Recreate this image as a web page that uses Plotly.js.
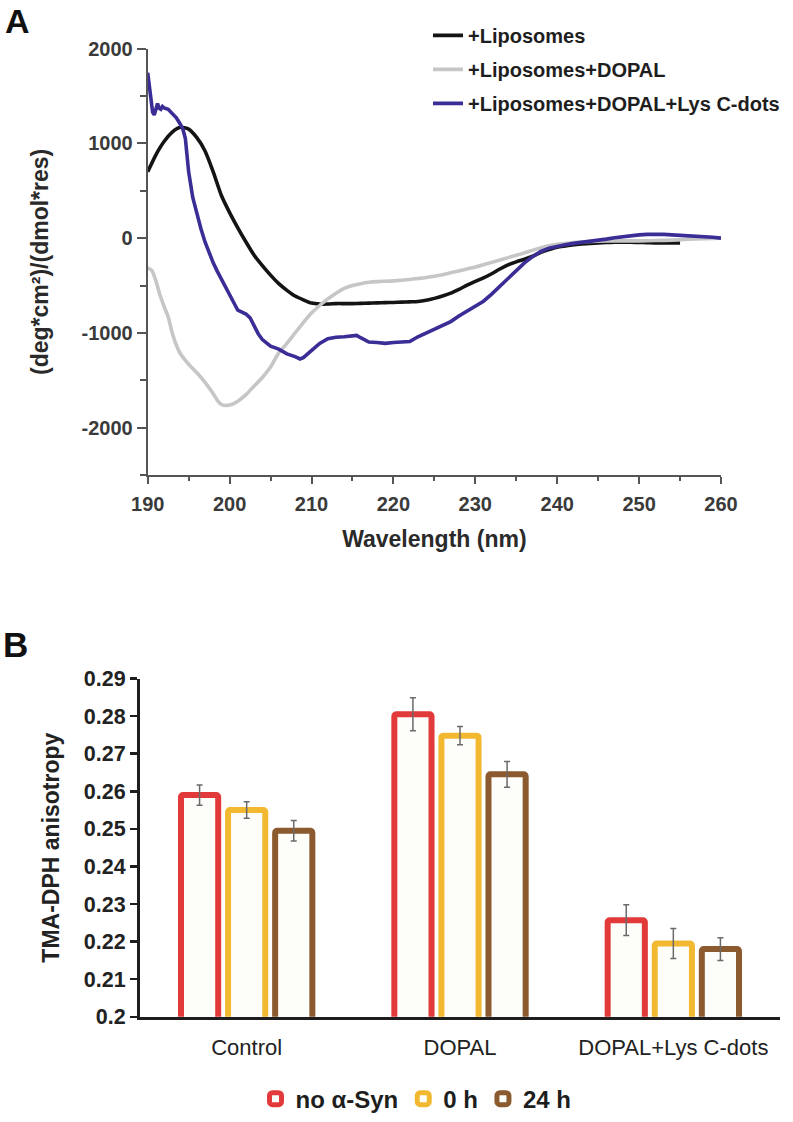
<!DOCTYPE html>
<html>
<head>
<meta charset="utf-8">
<script src="https://cdn.plot.ly/plotly-3.0.1.min.js"></script>
<style>
  html, body { margin: 0; padding: 0; background: #ffffff; }
  #chart { width: 793px; height: 1122px; }
</style>
</head>
<body>
<div id="chart"></div>
<script>
// ---------- Panel A : CD spectra ----------
const seriesNamesA = ['+Liposomes', '+Liposomes+DOPAL', '+Liposomes+DOPAL+Lys C-dots'];
const seriesColorsA = ['#141414', '#c6c6c6', '#3a2d96'];
const yTickValsA = [-2000, -1000, 0, 1000, 2000];
const yTickTextA = ['-2000', '-1000', '0', '1000', '2000'];

const lipoWl = [190,191,192,193,194,195,196,197,198,199,200,201,202,203,204,205,206,207,208,209,210,211,212,213,214,215,216,217,218,219,220,221,222,223,224,225,226,227,228,229,230,231,232,233,234,235,236,237,238,239,240,241,242,243,244,245,246,247,248,249,250,251,252,253,254,255];
const lipoCD = [700,880,1020,1120,1170,1150,1060,920,700,450,270,110,-40,-180,-290,-390,-480,-550,-610,-650,-685,-695,-695,-690,-690,-690,-688,-685,-682,-680,-678,-675,-672,-668,-655,-635,-610,-580,-540,-495,-455,-419,-375,-325,-282,-250,-222,-190,-150,-120,-95,-82,-70,-62,-55,-50,-46,-43,-42,-43,-45,-47,-50,-50,-50,-50];

const dopalWl = [190,190.5,191,191.5,192,192.5,193,193.5,194,195,196,197,198,198.5,199,199.5,200,200.5,201,202,203,204,205,206,207,208,209,210,211,212,213,214,215,216,217,218,220,222,224,226,228,230,232,234,236,238,240,242,244,246,248,250,252,254,256,258,260];
const dopalCD = [-314,-340,-450,-600,-720,-830,-1000,-1130,-1220,-1330,-1420,-1520,-1640,-1710,-1755,-1765,-1760,-1745,-1720,-1650,-1560,-1470,-1360,-1210,-1110,-1000,-890,-790,-710,-640,-580,-530,-500,-480,-465,-458,-450,-435,-415,-385,-345,-305,-255,-205,-155,-100,-65,-45,-35,-30,-28,-28,-25,-20,-12,-5,0];

const cdotsWl = [190,190.2,190.4,190.6,190.8,191,191.2,191.4,191.6,191.8,192,192.5,193,193.5,194,194.3,194.6,195,195.5,196,196.5,197,197.5,198,198.5,199,199.5,200,200.5,201,201.5,202,202.5,203,203.5,204,204.5,205,206,207,208,208.6,209,209.5,210,211,212,213,214,215,215.5,216,217,218,219,220,221,222,223,224,225,226,227,228,229,230,231,232,233,234,235,236,237,238,239,240,241,242,243,244,245,246,247,248,249,250,251,252,253,254,255,256,257,258,259,260];
const cdotsCD = [1745,1600,1450,1330,1300,1380,1420,1370,1360,1390,1375,1360,1320,1270,1200,1150,1050,700,430,250,100,-40,-160,-260,-350,-430,-500,-590,-680,-760,-780,-800,-840,-930,-1010,-1070,-1110,-1140,-1170,-1220,-1250,-1274,-1260,-1220,-1190,-1110,-1060,-1045,-1040,-1030,-1025,-1050,-1095,-1100,-1110,-1100,-1095,-1090,-1040,-1000,-960,-925,-880,-820,-770,-720,-665,-590,-510,-420,-340,-260,-195,-140,-105,-85,-70,-55,-45,-35,-25,-10,5,17,28,35,40,42,40,35,30,28,25,20,10,0];

// ---------- Panel B : anisotropy bars ----------
const categoriesB = ['Control', 'DOPAL', 'DOPAL+Lys C-dots'];
const seriesNamesB = ['no α-Syn', '0 h', '24 h'];
const seriesColorsB = ['#e2393b', '#f2b930', '#8b5a2e'];
const noSynVals = [0.259, 0.2805, 0.2257];
const noSynErr  = [0.0027, 0.0044, 0.0041];
const h0Vals    = [0.2550, 0.2748, 0.2195];
const h0Err     = [0.0022, 0.0024, 0.0040];
const h24Vals   = [0.2495, 0.2645, 0.2180];
const h24Err    = [0.0027, 0.0034, 0.0030];

const FONT = 'Liberation Sans, Arial, Helvetica, sans-serif';

const cdX = [lipoWl, dopalWl, cdotsWl];
const cdY = [lipoCD, dopalCD, cdotsCD];
const traces = [];
for (let i = 0; i < 3; i++) {
  traces.push({
    type: 'scatter', mode: 'lines',
    x: cdX[i], y: cdY[i],
    name: seriesNamesA[i],
    line: { color: seriesColorsA[i], width: 3.6, shape: i === 2 ? 'linear' : 'spline', smoothing: 0.6 },
    xaxis: 'x', yaxis: 'y',
    legend: 'legend', legendgroup: 'a' + i
  });
}
const barVals = [noSynVals, h0Vals, h24Vals];
const barErrs = [noSynErr, h0Err, h24Err];
for (let i = 0; i < 3; i++) {
  traces.push({
    type: 'bar',
    x: categoriesB, y: barVals[i],
    name: seriesNamesB[i],
    marker: { color: '#fdfdfa', line: { color: seriesColorsB[i], width: 6 }, cornerradius: 2 },
    error_y: { type: 'data', array: barErrs[i], visible: true, color: '#6a6a6a', thickness: 1.5, width: 3 },
    xaxis: 'x2', yaxis: 'y2',
    legend: 'legend2'
  });
}

const W = 793, H = 1122;
const px = v => v / W;
const py = v => 1 - v / H;

const layout = {
  width: W, height: H,
  margin: { l: 0, r: 0, t: 0, b: 0 },
  paper_bgcolor: '#ffffff', plot_bgcolor: 'rgba(0,0,0,0)',
  font: { family: FONT, color: '#222' },
  showlegend: true,
  barmode: 'group', bargap: 0.338, bargroupgap: 0.21,
  xaxis: {
    domain: [px(147.7), px(721)], range: [190, 260],
    dtick: 10, tick0: 190,
    showline: true, linecolor: '#555', linewidth: 2,
    ticks: 'outside', ticklen: 7, tickwidth: 2, tickcolor: '#555',
    minor: { dtick: 5, ticks: 'outside', ticklen: 4, tickwidth: 2, tickcolor: '#555' },
    showgrid: false, zeroline: false,
    tickfont: { size: 20, family: FONT, color: '#3a3a3a', weight: 'bold' },
    ticklabelstandoff: 3,
    title: { text: 'Wavelength (nm)', font: { size: 23, family: FONT, color: '#2a2a2a', weight: 'bold' }, standoff: 17 },
    anchor: 'y', automargin: false, fixedrange: true
  },
  yaxis: {
    domain: [py(479), py(49)], range: [-2500, 2000],
    tickmode: 'array', tickvals: yTickValsA, ticktext: yTickTextA,
    showline: true, linecolor: '#555', linewidth: 2,
    ticks: 'outside', ticklen: 9, tickwidth: 2, tickcolor: '#555',
    minor: { dtick: 500, tick0: 0, ticks: 'outside', ticklen: 6, tickwidth: 2, tickcolor: '#555' },
    showgrid: false, zeroline: false,
    tickfont: { size: 20, family: FONT, color: '#3a3a3a', weight: 'bold' },
    title: { text: '(deg*cm²)/(dmol*res)', font: { size: 23, family: FONT, color: '#2a2a2a', weight: 'bold' }, standoff: 26 },
    anchor: 'x', automargin: false, fixedrange: true
  },
  xaxis2: {
    domain: [px(140), px(780)],
    showline: true, linecolor: '#1e1e1e', linewidth: 3.5,
    ticks: '', showgrid: false, zeroline: false,
    tickfont: { size: 22, family: FONT, color: '#222' },
    ticklabelstandoff: 8,
    anchor: 'y2', automargin: false, fixedrange: true
  },
  yaxis2: {
    domain: [py(1025), py(684)], range: [0.2, 0.29],
    dtick: 0.01, tick0: 0.2,
    showline: true, linecolor: '#1e1e1e', linewidth: 3,
    ticks: 'outside', ticklen: 7, tickwidth: 2.5, tickcolor: '#1e1e1e',
    showgrid: false, zeroline: false,
    tickfont: { size: 21.5, family: FONT, color: '#222', weight: 'bold' },
    title: { text: 'TMA-DPH anisotropy', font: { size: 23, family: FONT, color: '#222', weight: 'bold' }, standoff: 18 },
    anchor: 'x2', automargin: false, fixedrange: true
  },
  legend: {
    x: px(428), y: py(16), xanchor: 'left', yanchor: 'top',
    orientation: 'v', bgcolor: 'rgba(0,0,0,0)',
    font: { size: 20, family: FONT, color: '#1e1e1e', weight: 'bold' },
    tracegroupgap: 5, traceorder: 'grouped'
  },
  legend2: {
    x: px(416), y: py(1108), xanchor: 'center', yanchor: 'middle',
    orientation: 'h', bgcolor: 'rgba(0,0,0,0)',
    font: { size: 24, family: FONT, color: '#1e1e1e', weight: 'bold' },
    traceorder: 'normal'
  },
  annotations: [
    { text: 'A', xref: 'paper', yref: 'paper', x: px(17.5), y: py(21), xanchor: 'center', yanchor: 'middle', showarrow: false, font: { size: 34, family: FONT, color: '#111', weight: 'bold' } },
    { text: 'B', xref: 'paper', yref: 'paper', x: px(15.5), y: py(650), xanchor: 'center', yanchor: 'middle', showarrow: false, font: { size: 35, family: FONT, color: '#111', weight: 'bold' } }
  ]
};

Plotly.newPlot('chart', traces, layout, { displayModeBar: false, staticPlot: true });
</script>
</body>
</html>
